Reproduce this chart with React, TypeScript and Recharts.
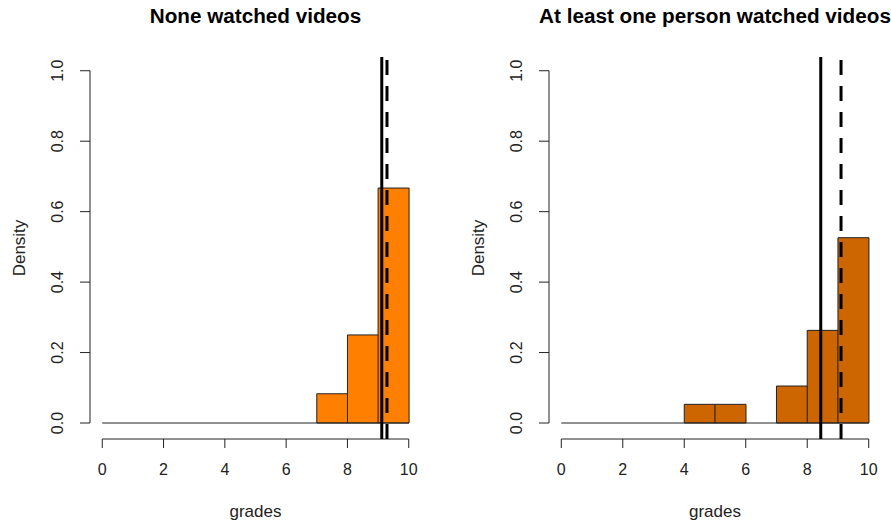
import { ComposedChart, Bar, XAxis, YAxis, ReferenceLine } from "recharts";

// histogram bins of width 1 on the grades scale, drawn at their midpoints
const binMids = [0.5, 1.5, 2.5, 3.5, 4.5, 5.5, 6.5, 7.5, 8.5, 9.5];
const gradeTicks = [0, 2, 4, 6, 8, 10];
const densityTicks = [0, 0.2, 0.4, 0.6, 0.8, 1.0];

const noneWatchedDensity = [0, 0, 0, 0, 0, 0, 0, 0.083, 0.25, 0.667];
const someWatchedDensity = [0, 0, 0, 0, 0.053, 0.053, 0, 0.105, 0.263, 0.526];

const noneWatchedMean = 9.12;
const noneWatchedMedian = 9.29;
const someWatchedMean = 8.44;
const someWatchedMedian = 9.1;

const FONT = "'Liberation Sans', Arial, sans-serif";
const INK = "#222";
const X_DOMAIN: [number, number] = [-0.4, 10.4];
const Y_DOMAIN: [number, number] = [-0.0454, 1.039];

const PLOT_TOP = 57;
const PLOT_BOTTOM = 439;
const CHART_H = 522;
const Y_AXIS_W = 80;
const X_AXIS_H = CHART_H - PLOT_BOTTOM;

function GradeTick({ x, y, payload }: any) {
  return (
    <text x={x} y={y + 27} textAnchor="middle" fontSize={16} fill={INK} fontFamily={FONT}>
      {payload.value}
    </text>
  );
}

function DensityTick({ x, y, payload }: any) {
  const bx = x - 17;
  return (
    <text
      x={bx}
      y={y}
      transform={`rotate(-90, ${bx}, ${y})`}
      textAnchor="middle"
      fontSize={16}
      fill={INK}
      fontFamily={FONT}
    >
      {Number(payload.value).toFixed(1)}
    </text>
  );
}

interface PanelProps {
  title: string;
  density: number[];
  fill: string;
  mean: number;
  median: number;
  chartX: number;
  chartW: number;
  plotLeft: number;
  plotRight: number;
}

function HistPanel({ title, density, fill, mean, median, chartX, chartW, plotLeft, plotRight }: PanelProps) {
  const data = binMids.map((mid, i) => ({ mid, density: density[i] }));
  const margin = {
    top: PLOT_TOP,
    bottom: 0,
    left: plotLeft - chartX - Y_AXIS_W,
    right: chartX + chartW - plotRight,
  };
  const plotCenter = (plotLeft + plotRight) / 2 - chartX;

  return (
    <div style={{ position: "absolute", left: chartX, top: 0, width: chartW, height: CHART_H }}>
      <div
        style={{
          position: "absolute",
          left: plotCenter - 250,
          width: 500,
          top: 6,
          textAlign: "center",
          fontFamily: FONT,
          fontWeight: "bold",
          fontSize: 20.7,
          lineHeight: "20px",
          color: "#000",
        }}
      >
        {title}
      </div>
      <ComposedChart width={chartW} height={CHART_H} data={data} margin={margin} barCategoryGap={0}>
        <XAxis
          dataKey="mid"
          type="number"
          domain={X_DOMAIN}
          allowDataOverflow
          ticks={gradeTicks}
          axisLine={false}
          tickLine={{ stroke: INK }}
          tickSize={9}
          tickMargin={0}
          height={X_AXIS_H}
          tick={<GradeTick />}
          label={{
            content: (p: any) => (
              <text
                x={p.viewBox.x + p.viewBox.width / 2}
                y={p.viewBox.y + 78}
                textAnchor="middle"
                fontSize={17}
                fill={INK}
                fontFamily={FONT}
              >
                grades
              </text>
            ),
          }}
        />
        <YAxis
          type="number"
          domain={Y_DOMAIN}
          allowDataOverflow
          ticks={densityTicks}
          axisLine={false}
          tickLine={{ stroke: INK }}
          tickSize={10}
          tickMargin={0}
          width={Y_AXIS_W}
          tick={<DensityTick />}
          label={{
            content: (p: any) => {
              const lx = p.viewBox.x + p.viewBox.width - 65;
              const ly = p.viewBox.y + p.viewBox.height / 2;
              return (
                <text
                  x={lx}
                  y={ly}
                  transform={`rotate(-90, ${lx}, ${ly})`}
                  textAnchor="middle"
                  fontSize={17}
                  fill={INK}
                  fontFamily={FONT}
                >
                  Density
                </text>
              );
            },
          }}
        />
        {/* R-style axis lines that only span the tick range */}
        <ReferenceLine
          segment={[{ x: X_DOMAIN[0], y: 0 }, { x: X_DOMAIN[0], y: 1 }]}
          stroke={INK}
          strokeWidth={1}
          ifOverflow="visible"
        />
        <ReferenceLine
          segment={[{ x: 0, y: Y_DOMAIN[0] }, { x: 10, y: Y_DOMAIN[0] }]}
          stroke={INK}
          strokeWidth={1}
          ifOverflow="visible"
        />
        {/* empty bins show up as a flat line at zero */}
        <ReferenceLine
          segment={[{ x: 0, y: 0 }, { x: 10, y: 0 }]}
          stroke={INK}
          strokeWidth={1}
          ifOverflow="visible"
        />
        <Bar dataKey="density" fill={fill} stroke={INK} strokeWidth={1} isAnimationActive={false} />
        <ReferenceLine x={mean} stroke="#000" strokeWidth={3} ifOverflow="visible" />
        <ReferenceLine x={median} stroke="#000" strokeWidth={3} strokeDasharray="15 11" ifOverflow="visible" />
      </ComposedChart>
    </div>
  );
}

export default function App() {
  return (
    <div style={{ position: "absolute", left: 0, top: 0, width: 891, height: 522, background: "#fff" }}>
      <HistPanel
        title="None watched videos"
        density={noneWatchedDensity}
        fill="#FF7F00"
        mean={noneWatchedMean}
        median={noneWatchedMedian}
        chartX={0}
        chartW={445}
        plotLeft={90}
        plotRight={421}
      />
      <HistPanel
        title="At least one person watched videos"
        density={someWatchedDensity}
        fill="#CD6600"
        mean={someWatchedMean}
        median={someWatchedMedian}
        chartX={445}
        chartW={446}
        plotLeft={549}
        plotRight={881}
      />
    </div>
  );
}
